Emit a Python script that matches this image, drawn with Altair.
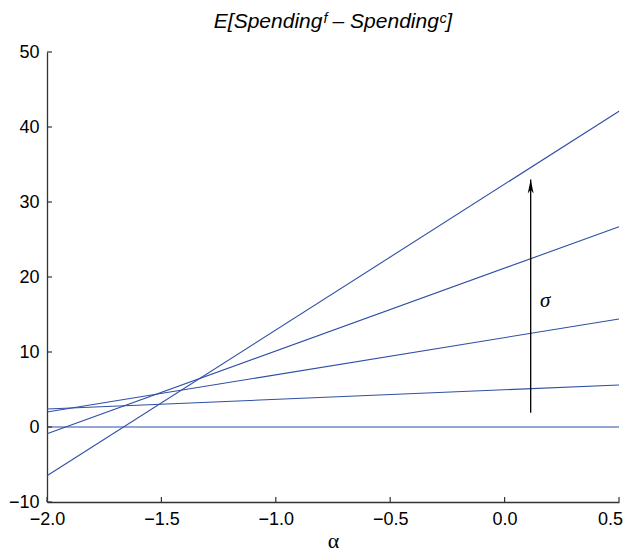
import altair as alt
import pandas as pd

# Line endpoints (alpha = -2.0 and alpha = 0.5)
alpha_ends = [-2.0, 0.5]
series_ids = ["s0", "s1", "s2", "s3", "s4"]
start_vals = [0.0, 2.4, 2.0, -0.9, -6.5]
end_vals = [0.0, 5.6, 14.4, 26.7, 42.1]

# Arrow (sigma increasing)
arrow_x = [0.114]
arrow_y_from = [1.9]
arrow_y_to = [33.0]
sigma_x = [0.177]
sigma_y = [16.8]

x_ticks = [-2.0, -1.5, -1.0, -0.5, 0.0, 0.5]
y_ticks = [-10, 0, 10, 20, 30, 40, 50]

rows = []
for sid, a, b in zip(series_ids, start_vals, end_vals):
    rows.append({"series": sid, "alpha": alpha_ends[0], "value": a})
    rows.append({"series": sid, "alpha": alpha_ends[1], "value": b})
lines_df = pd.DataFrame(rows)

W, H = 572, 450
LINE_COLOR = "#2f4fa6"
AX_COLOR = "#333333"

xscale = alt.Scale(domain=[-2.0, 0.5], nice=False, zero=False)
yscale = alt.Scale(domain=[-10, 50], nice=False, zero=False)

xaxis = alt.Axis(values=x_ticks, format=".1f", title="α", titleFont="Liberation Serif",
                 titleFontSize=22, titleFontWeight="normal", titlePadding=2,
                 labelPadding=8, labelFontSize=18, labelFlush=False, labelOverlap=False,
                 labelOffset={"condition": {"test": "datum.value > 0.4", "value": -9}, "value": 0},
                 ticks=False, grid=False)
yaxis = alt.Axis(values=y_ticks, format="d", title=None, labelPadding=8,
                 labelFontSize=18, labelFlush=False, labelOverlap=False,
                 ticks=False, grid=False)

lines = alt.Chart(lines_df).mark_line(color=LINE_COLOR, strokeWidth=1.1).encode(
    x=alt.X("alpha:Q", scale=xscale, axis=xaxis),
    y=alt.Y("value:Q", scale=yscale, axis=yaxis),
    detail="series:N",
)

arrow_df = pd.DataFrame({"x": arrow_x, "y": arrow_y_from, "y2": arrow_y_to})
shaft = alt.Chart(arrow_df).mark_rule(color="black", strokeWidth=1.3).encode(
    x=alt.X("x:Q", scale=xscale), y=alt.Y("y:Q", scale=yscale), y2="y2:Q"
)
head = alt.Chart(arrow_df).mark_point(
    shape="M0,0L0.42,2L0,1.45L-0.42,2Z", filled=True, color="black", opacity=1, size=196
).encode(x=alt.X("x:Q", scale=xscale), y=alt.Y("y2:Q", scale=yscale))

sigma_df = pd.DataFrame({"x": sigma_x, "y": sigma_y, "t": ["σ"]})
sigma = alt.Chart(sigma_df).mark_text(
    font="Liberation Serif", fontStyle="italic", fontSize=21, color="black"
).encode(x=alt.X("x:Q", scale=xscale), y=alt.Y("y:Q", scale=yscale), text="t:N")

xt_df = pd.DataFrame({"x": x_ticks})
xticks = alt.Chart(xt_df).mark_rule(color=AX_COLOR, strokeWidth=1.2).encode(
    x=alt.X("x:Q", scale=xscale), y=alt.value(H), y2=alt.value(H - 5)
)
yt_df = pd.DataFrame({"y": y_ticks})
yticks = alt.Chart(yt_df).mark_rule(color=AX_COLOR, strokeWidth=1.2).encode(
    y=alt.Y("y:Q", scale=yscale), x=alt.value(0), x2=alt.value(5)
)

chart = alt.layer(lines, shaft, head, sigma, xticks, yticks).properties(
    width=W, height=H,
    title=alt.TitleParams(text="E[Spendingᶠ – Spendingᶜ]", font="Liberation Sans",
                          fontStyle="italic", fontSize=21, fontWeight="normal",
                          color="black", offset=11),
    autosize="none",
    padding={"left": 39, "top": 44, "right": 4, "bottom": 52},
).configure_view(stroke=None).configure_axis(
    domainColor=AX_COLOR, domainWidth=1.3, labelFont="Liberation Sans",
    labelColor="black", titleColor="black"
)

chart.save("out.html", embed_options={"renderer": "svg", "actions": False})
